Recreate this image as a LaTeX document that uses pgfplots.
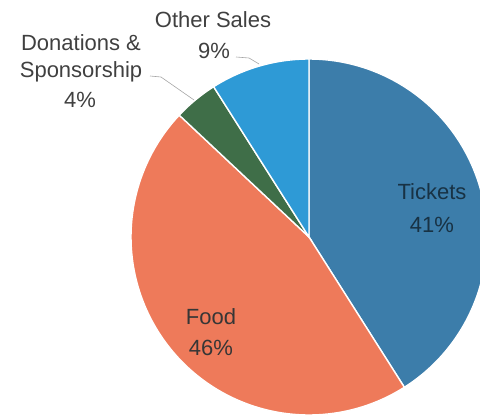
\documentclass[border=0pt]{standalone}
\usepackage{pgfplots}
\pgfplotsset{compat=1.18}
\usepackage{fontspec}
\setmainfont{Liberation Sans}
\definecolor{ctickets}{HTML}{3C7DAA}
\definecolor{cfood}{HTML}{EE7A5A}
\definecolor{cdon}{HTML}{3F6E48}
\definecolor{cother}{HTML}{2E9AD6}
\definecolor{ctext}{HTML}{404040}
\def\cx{309}\def\cy{179}\def\R{178}
% #1 start angle, #2 value (percent), #3 colour
\newcommand\slice[3]{%
  \addplot[fill=#3, draw=white, line width=1.4pt, domain={#1-3.6*#2}:{#1}, samples=90, variable=\t]
    ({\cx+\R*cos(\t)},{\cy+\R*sin(\t)}) -- (\cx,\cy) -- cycle;}
\begin{document}
\begin{tikzpicture}
\begin{axis}[hide axis, scale only axis, width=480pt, height=416pt,
  xmin=0, xmax=480, ymin=0, ymax=416, clip=true]
% data: Tickets 41, Food 46, Donations & Sponsorship 4, Other Sales 9
\slice{90}{41}{ctickets}
\slice{-57.6}{46}{cfood}
\slice{-223.2}{4}{cdon}
\slice{-237.6}{9}{cother}
\draw[gray!70, line width=0.6pt] (236,359) -- (249,358) -- (259,352);
\draw[gray!70, line width=0.6pt] (150,340) -- (161,339) -- (194,316);
\begin{scope}[every node/.style={font=\fontsize{22}{26}\selectfont, text=ctext, inner sep=0pt}]
\node at (213,396) {Other Sales};
\node at (214,365) {9\%};
\node at (81,373) {Donations \&};
\node at (81,344) {Sponsorship};
\node at (80,316) {4\%};
\node[text=ctext!85!black] at (211,99) {Food};
\node[text=ctext!85!black] at (211,68) {46\%};
\node[text=ctickets!40!black] at (432,224) {Tickets};
\node[text=ctickets!40!black] at (432,191) {41\%};
\end{scope}
\end{axis}
\pgfresetboundingbox
\path[use as bounding box] (current axis.south west) rectangle (current axis.north east);
\end{tikzpicture}
\end{document}
